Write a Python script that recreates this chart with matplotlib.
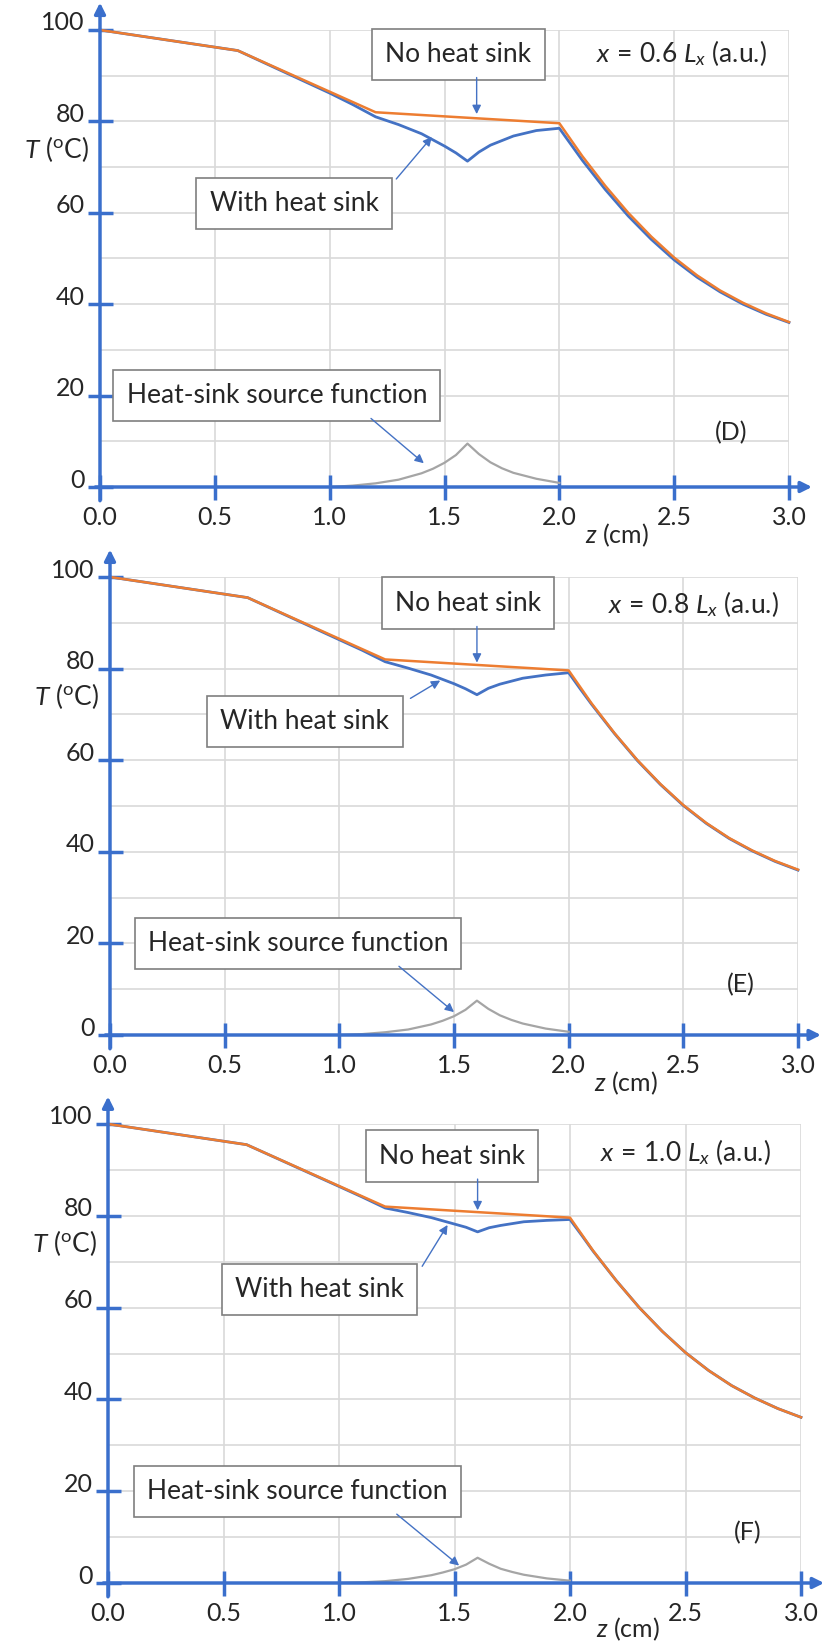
import numpy as np
import matplotlib
matplotlib.use('Agg')
import matplotlib.pyplot as plt
from matplotlib.transforms import ScaledTranslation

plt.rcParams['font.family'] = ['Lato', 'DejaVu Sans']
plt.rcParams['mathtext.fontset'] = 'custom'
plt.rcParams['mathtext.rm'] = 'Lato'
plt.rcParams['mathtext.it'] = 'Lato:italic'
plt.rcParams['mathtext.bf'] = 'Lato:bold'

# ---- data ----
z_no = [0, 0.6, 1.2, 2.0, 2.05, 2.1, 2.2, 2.3, 2.4, 2.5, 2.6, 2.7, 2.8, 2.9, 3.0]
T_no = [100, 95.5, 82.0, 79.6, 76.0, 72.4, 65.9, 60.0, 54.8, 50.2, 46.3, 43.0, 40.3, 38.0, 36.1]

z_with = [0, 0.6, 1.0, 1.1, 1.2, 1.3, 1.4, 1.5, 1.55, 1.6, 1.65, 1.7, 1.8, 1.9, 2.0,
          2.05, 2.1, 2.2, 2.3, 2.4, 2.5, 2.6, 2.7, 2.8, 2.9, 3.0]
T_with_D = [100, 95.5, 86.2, 83.7, 81.0, 79.3, 77.3, 74.6, 73.1, 71.3, 73.3, 74.8, 76.8, 78.0, 78.5,
            75.0, 71.5, 65.1, 59.3, 54.2, 49.7, 45.9, 42.7, 40.0, 37.8, 36.0]
T_with_E = [100, 95.5, 86.3, 84.0, 81.5, 80.1, 78.6, 76.7, 75.6, 74.3, 75.7, 76.6, 77.9, 78.6, 79.1,
            75.6, 72.2, 65.8, 59.9, 54.7, 50.1, 46.2, 42.9, 40.2, 37.9, 36.0]
T_with_F = [100, 95.5, 86.4, 84.1, 81.7, 80.7, 79.6, 78.2, 77.5, 76.5, 77.4, 77.9, 78.7, 79.0, 79.2,
            75.8, 72.3, 65.9, 60.0, 54.8, 50.2, 46.3, 43.0, 40.3, 38.0, 36.1]

z_src = [1.0, 1.1, 1.2, 1.3, 1.4, 1.45, 1.5, 1.55, 1.6, 1.65, 1.7, 1.75, 1.8, 1.9, 2.0]
S_D = [0, 0.3, 0.8, 1.6, 3.0, 4.0, 5.3, 7.0, 9.5, 7.2, 5.4, 4.1, 3.1, 1.8, 0.9]
S_E = [0, 0.2, 0.6, 1.2, 2.3, 3.1, 4.1, 5.5, 7.5, 5.7, 4.3, 3.3, 2.5, 1.4, 0.7]
S_F = [0, 0.15, 0.4, 0.9, 1.7, 2.3, 3.0, 4.0, 5.5, 4.2, 3.1, 2.4, 1.8, 1.0, 0.5]

x_pos = ['0.6', '0.8', '1.0']
panel_tags = ['(D)', '(E)', '(F)']
x_ticks = [0, 0.5, 1.0, 1.5, 2.0, 2.5, 3.0]
y_ticks = [0, 20, 40, 60, 80, 100]

ORANGE = '#ED7D31'
BLUE = '#4472C4'
AXBLUE = '#3A6FCC'
GRAY = '#A5A5A5'
TXT = '#262626'

W, H = 825, 1644
fig = plt.figure(figsize=(W / 100, H / 100), dpi=100)

# pixel frames of the three panels: x(z=0), x(z=3), y(T=100), y(T=0)
frames = [(100, 789, 30, 487), (110, 798, 577, 1035), (108, 801, 1124, 1583)]

# annotation layout per panel (data coords)
layout = [
    dict(nhs=(1.56, 94.7), nhs_arr=(1.64, 89.6, 81.6),
         whs=(0.845, 62.0), whs_arr=((1.29, 67.4), (1.445, 76.6)),
         src=(0.77, 20.0), src_arr=((1.18, 15.0), (1.41, 5.2)),
         xlab=(2.16, 95.0), tag=(2.75, 12.0), zlab=(2.25, -10.6)),
    dict(nhs=(1.56, 94.3), nhs_arr=(1.60, 89.2, 81.3),
         whs=(0.85, 68.5), whs_arr=((1.31, 73.5), (1.44, 77.4)),
         src=(0.82, 20.0), src_arr=((1.26, 15.0), (1.50, 5.0)),
         xlab=(2.17, 94.0), tag=(2.75, 11.0), zlab=(2.25, -10.6)),
    dict(nhs=(1.49, 93.0), nhs_arr=(1.60, 88.0, 81.2),
         whs=(0.915, 64.0), whs_arr=((1.36, 69.0), (1.47, 78.0)),
         src=(0.82, 20.0), src_arr=((1.25, 15.0), (1.52, 3.8)),
         xlab=(2.13, 94.0), tag=(2.77, 11.0), zlab=(2.25, -10.0)),
]

T_with_all = [T_with_D, T_with_E, T_with_F]
S_all = [S_D, S_E, S_F]

box = dict(boxstyle='square,pad=0.5', fc='white', ec='#7F7F7F', lw=1.2)
arr = dict(arrowstyle='-|>', color=BLUE, lw=1.0, mutation_scale=13, shrinkA=0, shrinkB=0)

for i in range(3):
    x0, x3, y100, y0 = frames[i]
    ax = fig.add_axes([x0 / W, 1 - y0 / H, (x3 - x0) / W, (y0 - y100) / H])
    ax.set_xlim(0, 3.0)
    ax.set_ylim(0, 100)
    for s in ax.spines.values():
        s.set_visible(False)

    ax.set_xticks(x_ticks)
    ax.set_xticklabels(['%.1f' % v for v in x_ticks])
    ax.set_yticks(y_ticks)
    ax.set_yticks([10, 30, 50, 70, 90], minor=True)
    ax.grid(True, which='both', color='#D9D9D9', lw=1.2, zorder=0)
    ax.tick_params(which='major', direction='inout', length=18, width=2.5, color=AXBLUE,
                   labelsize=18, labelcolor=TXT)
    ax.tick_params(axis='x', which='major', pad=5)
    ax.tick_params(axis='y', which='major', pad=2)
    ax.tick_params(which='minor', length=0)
    ax.set_axisbelow(True)
    for lab in ax.get_yticklabels():
        lab.set_transform(lab.get_transform() + ScaledTranslation(0, 0.09, fig.dpi_scale_trans))

    # axis lines with arrows
    ax.annotate('', xy=(3.1, 0), xytext=(-0.02, 0), annotation_clip=False,
                arrowprops=dict(arrowstyle='-|>', color=AXBLUE, lw=2.5, mutation_scale=16,
                                shrinkA=0, shrinkB=0), zorder=5)
    ax.annotate('', xy=(0, 106), xytext=(0, -3), annotation_clip=False,
                arrowprops=dict(arrowstyle='-|>', color=AXBLUE, lw=2.5, mutation_scale=16,
                                shrinkA=0, shrinkB=0), zorder=5)

    ax.plot(z_src, S_all[i], color=GRAY, lw=1.6, zorder=3, clip_on=False)
    ax.plot(z_with, T_with_all[i], color=BLUE, lw=2.0, zorder=3, clip_on=False)
    ax.plot(z_no, T_no, color=ORANGE, lw=1.8, zorder=4, clip_on=False)

    L = layout[i]
    ax.text(*L['nhs'], 'No heat sink', ha='center', va='center', fontsize=19, color=TXT, bbox=box, zorder=6)
    xa, ya, yb = L['nhs_arr']
    ax.annotate('', xy=(xa, yb), xytext=(xa, ya), arrowprops=arr, zorder=6)
    ax.text(*L['whs'], 'With heat sink', ha='center', va='center', fontsize=19, color=TXT, bbox=box, zorder=6)
    ax.annotate('', xy=L['whs_arr'][1], xytext=L['whs_arr'][0], arrowprops=arr, zorder=6)
    ax.text(*L['src'], 'Heat-sink source function', ha='center', va='center', fontsize=19, color=TXT,
            bbox=box, zorder=6)
    ax.annotate('', xy=L['src_arr'][1], xytext=L['src_arr'][0], arrowprops=arr, zorder=6)

    ax.text(*L['xlab'], r'$\mathit{x\,=\,%s\ L_x}$ (a.u.)' % x_pos[i], ha='left', va='center',
            fontsize=19, color=TXT)
    ax.text(*L['tag'], panel_tags[i], ha='center', va='center', fontsize=18, color=TXT)
    ax.text(*L['zlab'], r'$z$ (cm)', ha='center', va='center', fontsize=18, color=TXT, clip_on=False)
    ax.text(-0.19, 74, r'$T$ ($^{\mathrm{o}}$C)', ha='center', va='center', fontsize=19, color=TXT,
            clip_on=False)

fig.savefig('out.png', dpi=100)
